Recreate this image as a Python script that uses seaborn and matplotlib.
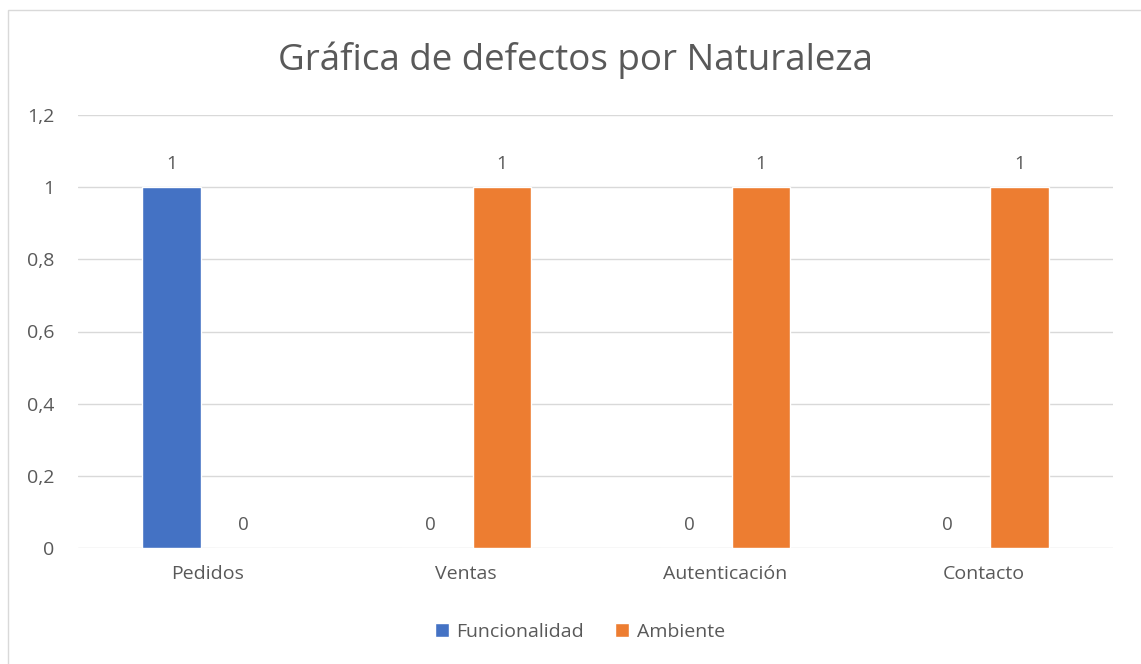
import matplotlib
matplotlib.use("Agg")
import matplotlib.pyplot as plt
import pandas as pd
import seaborn as sns
from matplotlib.patches import Rectangle
from matplotlib.ticker import FuncFormatter

sns.set_theme(style="white")
plt.rcParams["font.family"] = ["Open Sans", "DejaVu Sans"]

categories = ["Pedidos", "Ventas", "Autenticación", "Contacto"]
funcionalidad = [1, 0, 0, 0]
ambiente = [0, 1, 1, 1]
series_names = ["Funcionalidad", "Ambiente"]
colors = ["#4472C4", "#ED7D31"]
text_color = "#595959"

df = pd.DataFrame({
    "categoria": categories * 2,
    "serie": [series_names[0]] * len(categories) + [series_names[1]] * len(categories),
    "valor": funcionalidad + ambiente,
})

fig = plt.figure(figsize=(11.41, 6.64), dpi=100, facecolor="white")
fig.patches.append(Rectangle((8 / 1141, -0.1), 1.2, 1 - 10 / 664 + 0.1, transform=fig.transFigure,
                             fill=False, edgecolor="#d9d9d9", linewidth=1))
ax = fig.add_axes([78 / 1141, 1 - 548 / 664, (1113 - 78) / 1141, (548 - 115) / 664])

sns.barplot(data=df, x="categoria", y="valor", hue="serie", palette=colors, saturation=1,
            width=0.556, gap=0.19, ax=ax, legend=True)

for cont in ax.containers:
    ax.bar_label(cont, labels=[f"{v:g}" for v in cont.datavalues], padding=10,
                 fontsize=13.5, color=text_color)

ax.set_ylim(0, 1.2)
ax.set_yticks([0, 0.2, 0.4, 0.6, 0.8, 1.0, 1.2])
ax.yaxis.set_major_formatter(FuncFormatter(lambda v, p: f"{v:g}".replace(".", ",")))
ax.set_xlim(-0.5, 3.5)
ax.grid(axis="y", color="#d9d9d9", linewidth=1)
ax.set_axisbelow(True)
for s in ax.spines.values():
    s.set_visible(False)
ax.tick_params(axis="both", length=0, labelsize=14, labelcolor=text_color)
ax.tick_params(axis="y", pad=17)
ax.tick_params(axis="x", pad=12)
ax.set_xlabel("")
ax.set_ylabel("")

fig.text(575 / 1141, 1 - 60 / 664, "Gráfica de defectos por Naturaleza", ha="center", va="center",
         fontsize=26.5, color=text_color)

handles, labels = ax.get_legend_handles_labels()
ax.legend(handles, labels, loc="center", bbox_to_anchor=(580 / 1141, 1 - 632 / 664),
          bbox_transform=fig.transFigure, ncol=2, frameon=False, fontsize=14,
          labelcolor=text_color, handlelength=0.7, handleheight=0.7, handletextpad=0.4,
          columnspacing=1.6)

fig.savefig("out.png", dpi=100, facecolor="white")
